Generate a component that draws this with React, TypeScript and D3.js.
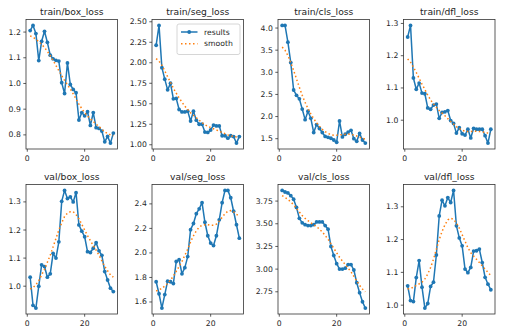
import React from "react";
import * as d3 from "d3";

const epochs = d3.range(1, 31);

const titles = [
  "train/box_loss", "train/seg_loss", "train/cls_loss", "train/dfl_loss",
  "val/box_loss", "val/seg_loss", "val/cls_loss", "val/dfl_loss",
];

const trainBox = [1.206, 1.226, 1.194, 1.089, 1.164, 1.203, 1.16, 1.11, 1.096, 1.09, 1.087, 1.003, 0.961, 1.08, 0.996, 0.977, 0.964, 0.858, 0.887, 0.874, 0.89, 0.837, 0.887, 0.828, 0.825, 0.815, 0.773, 0.794, 0.768, 0.807];
const trainBoxSmooth = [1.185, 1.18, 1.172, 1.163, 1.152, 1.14, 1.125, 1.108, 1.09, 1.07, 1.05, 1.03, 1.012, 0.995, 0.978, 0.96, 0.94, 0.92, 0.902, 0.886, 0.873, 0.862, 0.852, 0.842, 0.832, 0.822, 0.812, 0.805, 0.8, 0.797];

const trainSeg = [2.214, 2.456, 1.94, 1.8, 1.67, 1.75, 1.56, 1.565, 1.43, 1.4, 1.4, 1.41, 1.29, 1.41, 1.3, 1.25, 1.25, 1.155, 1.15, 1.18, 1.24, 1.23, 1.23, 1.11, 1.11, 1.08, 1.11, 1.1, 1.02, 1.1];
const trainSegSmooth = [2.05, 2.02, 1.97, 1.9, 1.83, 1.76, 1.69, 1.63, 1.57, 1.52, 1.47, 1.43, 1.39, 1.36, 1.33, 1.3, 1.27, 1.245, 1.225, 1.21, 1.195, 1.18, 1.165, 1.15, 1.135, 1.12, 1.11, 1.1, 1.095, 1.09];

const trainCls = [4.06, 4.06, 3.68, 3.22, 2.6, 2.48, 2.4, 2.17, 1.93, 2.12, 1.96, 1.64, 1.82, 1.73, 1.64, 1.55, 1.53, 1.51, 1.47, 1.42, 1.9, 1.54, 1.6, 1.65, 1.69, 1.5, 1.44, 1.62, 1.47, 1.4];
const trainClsSmooth = [3.57, 3.5, 3.38, 3.22, 3.04, 2.85, 2.66, 2.48, 2.32, 2.18, 2.06, 1.95, 1.86, 1.78, 1.71, 1.66, 1.62, 1.59, 1.58, 1.58, 1.585, 1.59, 1.6, 1.605, 1.6, 1.58, 1.56, 1.53, 1.51, 1.49];

const trainDfl = [1.258, 1.294, 1.131, 1.096, 1.115, 1.084, 1.082, 1.038, 1.034, 1.047, 1.05, 1.006, 1.024, 1.026, 1.03, 0.999, 0.99, 0.96, 0.977, 0.958, 0.954, 0.972, 0.945, 0.975, 0.972, 0.972, 0.972, 0.952, 0.929, 0.972];
const trainDflSmooth = [1.19, 1.18, 1.165, 1.148, 1.13, 1.112, 1.095, 1.078, 1.063, 1.05, 1.04, 1.03, 1.022, 1.014, 1.005, 0.996, 0.988, 0.98, 0.974, 0.969, 0.966, 0.965, 0.965, 0.966, 0.966, 0.965, 0.964, 0.962, 0.96, 0.958];

const valBox = [1.032, 0.932, 0.922, 1.0, 1.076, 1.07, 1.032, 1.044, 1.117, 1.1, 1.158, 1.302, 1.341, 1.312, 1.318, 1.3, 1.333, 1.218, 1.196, 1.176, 1.123, 1.12, 1.135, 1.155, 1.126, 1.11, 1.052, 1.022, 0.993, 0.981];
const valBoxSmooth = [0.99, 0.995, 1.005, 1.02, 1.04, 1.06, 1.085, 1.11, 1.14, 1.17, 1.2, 1.225, 1.248, 1.26, 1.265, 1.265, 1.255, 1.24, 1.22, 1.2, 1.18, 1.162, 1.145, 1.128, 1.11, 1.09, 1.07, 1.055, 1.04, 1.032];

const valSeg = [1.765, 1.667, 1.55, 1.66, 1.77, 1.765, 1.75, 1.93, 1.945, 1.83, 1.88, 1.97, 2.19, 2.24, 2.32, 2.36, 2.41, 2.25, 2.14, 2.08, 2.06, 2.14, 2.27, 2.41, 2.51, 2.51, 2.45, 2.34, 2.23, 2.12];
const valSegSmooth = [1.69, 1.7, 1.71, 1.73, 1.75, 1.78, 1.81, 1.85, 1.89, 1.93, 1.98, 2.03, 2.09, 2.14, 2.18, 2.21, 2.225, 2.23, 2.23, 2.225, 2.225, 2.235, 2.26, 2.29, 2.32, 2.34, 2.345, 2.335, 2.315, 2.3];

const valCls = [3.868, 3.85, 3.84, 3.81, 3.77, 3.68, 3.56, 3.51, 3.49, 3.48, 3.48, 3.49, 3.52, 3.52, 3.52, 3.48, 3.44, 3.25, 3.15, 3.06, 3.0, 3.0, 3.01, 3.05, 3.05, 2.99, 2.85, 2.74, 2.64, 2.57];
const valClsSmooth = [3.81, 3.79, 3.77, 3.74, 3.71, 3.67, 3.63, 3.59, 3.56, 3.535, 3.51, 3.49, 3.47, 3.44, 3.41, 3.37, 3.33, 3.28, 3.23, 3.18, 3.13, 3.09, 3.05, 3.01, 2.97, 2.92, 2.87, 2.82, 2.78, 2.75];

const valDfl = [1.059, 1.014, 1.011, 1.084, 1.136, 1.055, 0.991, 1.005, 1.057, 1.07, 1.153, 1.272, 1.32, 1.303, 1.328, 1.313, 1.35, 1.242, 1.205, 1.181, 1.11, 1.099, 1.115, 1.165, 1.166, 1.171, 1.13, 1.085, 1.064, 1.047];
const valDflSmooth = [1.05, 1.05, 1.055, 1.06, 1.065, 1.07, 1.08, 1.095, 1.115, 1.14, 1.17, 1.2, 1.225, 1.245, 1.26, 1.265, 1.262, 1.25, 1.235, 1.215, 1.195, 1.175, 1.16, 1.15, 1.14, 1.13, 1.12, 1.11, 1.1, 1.09];

const results = [trainBox, trainSeg, trainCls, trainDfl, valBox, valSeg, valCls, valDfl];
const smooths = [trainBoxSmooth, trainSegSmooth, trainClsSmooth, trainDflSmooth, valBoxSmooth, valSegSmooth, valClsSmooth, valDflSmooth];

const yTicks = [
  [0.8, 0.9, 1.0, 1.1, 1.2],
  [1.0, 1.25, 1.5, 1.75, 2.0, 2.25, 2.5],
  [1.5, 2.0, 2.5, 3.0, 3.5, 4.0],
  [1.0, 1.1, 1.2, 1.3],
  [1.0, 1.1, 1.2, 1.3],
  [1.6, 1.8, 2.0, 2.2, 2.4],
  [2.75, 3.0, 3.25, 3.5, 3.75],
  [1.0, 1.1, 1.2, 1.3],
];
const yDecimals = [1, 2, 1, 1, 1, 1, 2, 1];
const xTicks = [0, 20];

const W = 509;
const H = 336;
const lefts = [26, 152, 278, 403.5];
const tops = [19.5, 184.5];
const PW = 91.5;
const PH = 129.5;
const FONT = "DejaVu Sans, sans-serif";
const BLUE = "#1f77b4";
const ORANGE = "#ff7f0e";
const TEXT = "#262626";

function Panel({ i }: { i: number }) {
  const left = lefts[i % 4];
  const top = tops[Math.floor(i / 4)];
  const res = results[i];
  const sm = smooths[i];
  const all = res.concat(sm);
  const [mn, mx] = d3.extent(all) as [number, number];
  const pad = (mx - mn) * 0.05;
  const x = d3.scaleLinear().domain([1 - 29 * 0.05, 30 + 29 * 0.05]).range([left, left + PW]);
  const y = d3.scaleLinear().domain([mn - pad, mx + pad]).range([top + PH, top]);
  const line = d3.line<number>().x((_, j) => x(epochs[j])).y((d) => y(d));
  const fmt = d3.format(`.${yDecimals[i]}f`);
  return (
    <g>
      <text x={left + PW / 2} y={top - 4.5} textAnchor="middle" fontFamily={FONT} fontSize={9.2} fill={TEXT}>
        {titles[i]}
      </text>
      <path d={line(res) || ""} fill="none" stroke={BLUE} strokeWidth={1.5} strokeLinejoin="round" />
      {res.map((d, j) => (
        <circle key={j} cx={x(epochs[j])} cy={y(d)} r={1.9} fill={BLUE} />
      ))}
      <path d={line(sm) || ""} fill="none" stroke={ORANGE} strokeWidth={1.5} strokeDasharray="1.5,2.5" />
      <rect x={left} y={top} width={PW} height={PH} fill="none" stroke="#333" strokeWidth={0.8} />
      {yTicks[i].map((t) => (
        <g key={t}>
          <line x1={left - 2.7} x2={left} y1={y(t)} y2={y(t)} stroke="#333" strokeWidth={0.8} />
          <text x={left - 5.2} y={y(t)} textAnchor="end" dominantBaseline="central" fontFamily={FONT} fontSize={7.7} fill={TEXT}>
            {fmt(t)}
          </text>
        </g>
      ))}
      {xTicks.map((t) => (
        <g key={t}>
          <line x1={x(t)} x2={x(t)} y1={top + PH} y2={top + PH + 2.7} stroke="#333" strokeWidth={0.8} />
          <text x={x(t)} y={top + PH + 11.5} textAnchor="middle" fontFamily={FONT} fontSize={7.7} fill={TEXT}>
            {String(t)}
          </text>
        </g>
      ))}
      {i === 1 && (
        <g>
          <rect x={177} y={24} width={63} height={30.5} rx={2} fill="white" fillOpacity={0.8} stroke="#cccccc" strokeWidth={0.8} />
          <line x1={181} x2={197.5} y1={32} y2={32} stroke={BLUE} strokeWidth={1.5} />
          <circle cx={189.2} cy={32} r={1.9} fill={BLUE} />
          <text x={204} y={32} dominantBaseline="central" fontFamily={FONT} fontSize={7.7} fill={TEXT}>results</text>
          <line x1={181} x2={197.5} y1={43.7} y2={43.7} stroke={ORANGE} strokeWidth={1.5} strokeDasharray="1.5,2.5" />
          <text x={204} y={43.7} dominantBaseline="central" fontFamily={FONT} fontSize={7.7} fill={TEXT}>smooth</text>
        </g>
      )}
    </g>
  );
}

export default function App() {
  return (
    <svg width={W} height={H} style={{ position: "absolute", left: 0, top: 0, background: "white" }}>
      <rect width={W} height={H} fill="white" />
      {titles.map((_, i) => (
        <Panel key={i} i={i} />
      ))}
    </svg>
  );
}
